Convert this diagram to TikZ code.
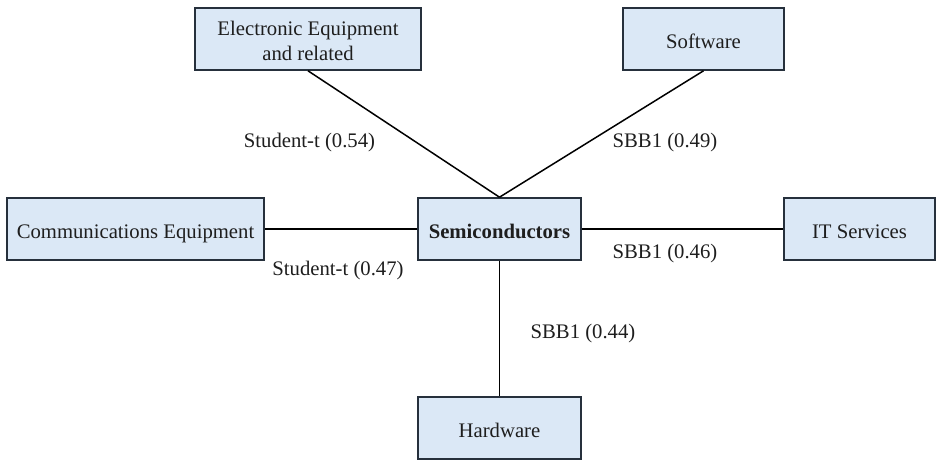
\documentclass[tikz,border=0pt]{standalone}
\usepackage{fontspec}
\setmainfont{Liberation Serif}
\definecolor{boxfill}{RGB}{219,232,246}
\definecolor{boxedge}{RGB}{38,48,60}
\definecolor{ink}{RGB}{30,30,30}
\tikzset{
  sector/.style={draw=boxedge, fill=boxfill, line width=1.6pt, inner sep=0pt,
    minimum height=62pt, align=center, text=ink,
    text height=18pt, text depth=0pt,
    font=\fontsize{20.7}{25}\selectfont},
  link/.style={draw=black, line width=1.5pt},
  tag/.style={text=ink, inner sep=0pt, anchor=base,
    font=\fontsize{20.7}{24}\selectfont}
}
\begin{document}
\begin{tikzpicture}[x=1pt, y=-1pt]
  \clip (0,0) rectangle (937,459);
  \fill[white] (0,0) rectangle (937,459);

  % sector boxes
  \node[sector, minimum width=226pt, text height=, text depth=] (elec) at (308,39)
    {\rule{0pt}{18.4pt}Electronic Equipment\\and related};
  \node[sector, minimum width=161pt] (soft) at (703.5,39) {Software};
  \node[sector, minimum width=257pt] (comm) at (135.5,229) {Communications Equipment};
  \node[sector, minimum width=163pt] (semi) at (499.5,229) {\textbf{Semiconductors}};
  \node[sector, minimum width=151pt] (its)  at (859.5,229) {IT Services};
  \node[sector, minimum width=163pt] (hard) at (499.5,428) {Hardware};

  % links to the central sector
  \draw[link] (elec.south) -- (semi.north);
  \draw[link] (soft.south) -- (semi.north);
  \draw[link] (comm.east) -- (semi.west);
  \draw[link] (semi.east) -- (its.west);
  \draw[link] (semi.south) -- (hard.north);

  % copula labels
  \node[tag] (l1) at (309.5,147) {Student-t (0.54)};
  \node[tag] (l2) at (665,147) {SBB1 (0.49)};
  \node[tag] (l3) at (338,275) {Student-t (0.47)};
  \node[tag] (l4) at (665,258) {SBB1 (0.46)};
  \node[tag] (l5) at (583,338.5) {SBB1 (0.44)};
\end{tikzpicture}
\end{document}
